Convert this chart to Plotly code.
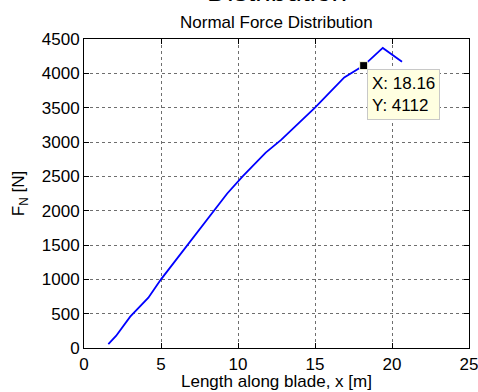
import plotly.graph_objects as go

# Normal force along the blade span
span_x = [1.58, 2.08, 3.0, 4.18, 5.0, 6.7, 8.4, 9.3, 10.3, 11.8, 12.8, 13.4,
          15.0, 16.9, 18.16, 19.4, 20.65]
normal_force = [58, 175, 456, 733, 1000, 1500, 2000, 2250, 2500, 2845, 3030, 3160,
                3500, 3940, 4112, 4370, 4170]

# Highlighted data point
tip_x = 18.16
tip_y = 4112

x_ticks = [0, 5, 10, 15, 20, 25]
y_ticks = [0, 500, 1000, 1500, 2000, 2500, 3000, 3500, 4000, 4500]

FONT = "Liberation Sans, Arial, sans-serif"

fig = go.Figure()
fig.add_trace(go.Scatter(
    x=span_x, y=normal_force, mode="lines",
    line=dict(color="rgb(0,0,255)", width=1.8),
    showlegend=False, hoverinfo="skip",
))
fig.add_trace(go.Scatter(
    x=[tip_x], y=[tip_y], mode="markers",
    marker=dict(symbol="square", size=8, color="black",
                line=dict(color="#ffffe1", width=1)),
    showlegend=False, hoverinfo="skip",
))

fig.add_annotation(
    x=tip_x, y=tip_y, xref="x", yref="y",
    text=f"X: {tip_x:.2f}<br>Y: {tip_y}",
    showarrow=False, xanchor="left", yanchor="top",
    xshift=3, yshift=-3, align="left",
    font=dict(family=FONT, size=17, color="black"),
    bgcolor="#ffffe1", bordercolor="#c8c8c8", borderwidth=1, borderpad=4,
)

# Titles
fig.add_annotation(
    text="Distribution", xref="paper", yref="paper", x=0.5, y=1.0,
    yshift=30, xanchor="center", yanchor="bottom", showarrow=False,
    font=dict(family=FONT, size=28, color="black"),
)
fig.add_annotation(
    text="Normal Force Distribution", xref="paper", yref="paper", x=0.5, y=1.0,
    yshift=5, xanchor="center", yanchor="bottom", showarrow=False,
    font=dict(family=FONT, size=17, color="black"),
)

# x-axis title
fig.add_annotation(
    text="Length along blade, x [m]", xref="paper", yref="paper", x=0.5, y=0.0,
    yshift=-23, xanchor="center", yanchor="top", showarrow=False,
    borderpad=0,
    font=dict(family=FONT, size=17, color="black"),
)

axis_common = dict(
    ticks="inside", ticklen=5, tickcolor="black", tickwidth=1,
    showline=True, linecolor="black", linewidth=1, mirror="allticks",
    showgrid=True, gridcolor="#6e6e6e", griddash="dot", gridwidth=1,
    zeroline=False, tickfont=dict(family=FONT, size=17, color="black"),
    ticklabeloverflow="allow",
)

fig.update_xaxes(
    range=[0, 25], tickvals=x_ticks, ticktext=[str(v) for v in x_ticks],
    ticklabelstandoff=1,
    **axis_common,
)
fig.update_yaxes(
    range=[0, 4500], tickvals=y_ticks, ticktext=[str(v) for v in y_ticks],
    title=dict(text="F<sub>N</sub> [N]", standoff=12,
               font=dict(family=FONT, size=17, color="black")),
    **axis_common,
)

fig.update_layout(
    width=478, height=392,
    margin=dict(l=84, r=9, t=39, b=44, autoexpand=False),
    paper_bgcolor="white", plot_bgcolor="white",
    font=dict(family=FONT, color="black"),
)

fig.write_html("out.html")
